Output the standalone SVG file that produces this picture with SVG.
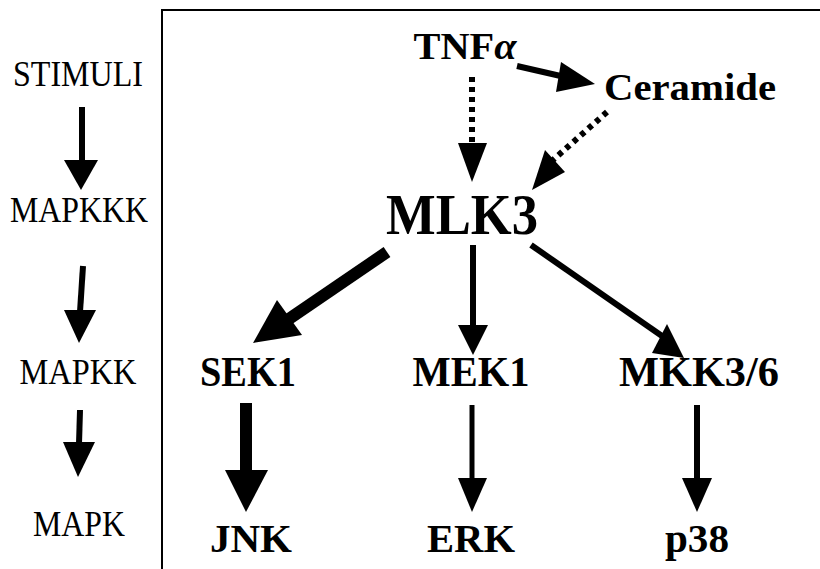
<svg xmlns="http://www.w3.org/2000/svg" width="820" height="569" viewBox="0 0 820 569">
<style>
.lab{font-family:"Liberation Serif","Times New Roman",serif;font-size:35px;fill:#000;text-anchor:middle}
.nd{font-family:"Liberation Serif","Times New Roman",serif;font-weight:bold;fill:#000;text-anchor:middle}
.ln{stroke:#000;fill:none}
.hd{fill:#000;stroke:none}
</style>
<rect width="820" height="569" fill="#fff"/>
<g id="frame" class="ln" stroke-width="2">
<path d="M162,569 V10 H820"/>
</g>
<g id="levels">
<text class="lab" x="78" y="86" textLength="130" lengthAdjust="spacingAndGlyphs">STIMULI</text>
<text class="lab" x="79" y="222" textLength="138" lengthAdjust="spacingAndGlyphs">MAPKKK</text>
<text class="lab" x="78" y="384" textLength="117" lengthAdjust="spacingAndGlyphs">MAPKK</text>
<text class="lab" x="79" y="536" textLength="92" lengthAdjust="spacingAndGlyphs">MAPK</text>
</g>
<g id="level-arrows">
<path class="ln" stroke-width="6" d="M82,107 V162"/>
<path class="hd" d="M64,160 L98,160 L81,190 Z"/>
<path class="ln" stroke-width="6" d="M83,266 L80,312"/>
<path class="hd" d="M64,310 L96,310 L79,343 Z"/>
<path class="ln" stroke-width="6" d="M80,410 L79,444"/>
<path class="hd" d="M63,442 L95,442 L78,477 Z"/>
</g>
<g id="TNFa"><text class="nd" x="465" y="59" font-size="38" textLength="103" lengthAdjust="spacingAndGlyphs">TNF<tspan font-style="italic">α</tspan></text></g>
<g id="Ceramide"><text class="nd" x="690" y="100" font-size="38" textLength="172" lengthAdjust="spacingAndGlyphs">Ceramide</text></g>
<g id="MLK3"><text class="nd" x="462" y="234" font-size="56" textLength="152" lengthAdjust="spacingAndGlyphs">MLK3</text></g>
<g id="SEK1"><text class="nd" x="248" y="386" font-size="42" textLength="96" lengthAdjust="spacingAndGlyphs">SEK1</text></g>
<g id="MEK1"><text class="nd" x="471" y="386" font-size="42" textLength="117" lengthAdjust="spacingAndGlyphs">MEK1</text></g>
<g id="MKK3-6"><text class="nd" x="699" y="386" font-size="42" textLength="160" lengthAdjust="spacingAndGlyphs">MKK3/6</text></g>
<g id="JNK"><text class="nd" x="251" y="552" font-size="40" textLength="82" lengthAdjust="spacingAndGlyphs">JNK</text></g>
<g id="ERK"><text class="nd" x="471" y="552" font-size="40" textLength="88" lengthAdjust="spacingAndGlyphs">ERK</text></g>
<g id="p38"><text class="nd" x="697" y="552" font-size="40" textLength="64" lengthAdjust="spacingAndGlyphs">p38</text></g>
<g id="connectors">
<path class="ln" stroke-width="6" d="M517,66 L565,77"/>
<path class="hd" d="M561,62 L595,84 L556,92 Z"/>
<path class="ln" stroke-width="6" stroke-dasharray="5,5" d="M472,77 V146"/>
<path class="hd" d="M458,143 L487,143 L472,182 Z"/>
<path class="ln" stroke-width="6" stroke-dasharray="5,5" d="M607,112 L553,160"/>
<path class="hd" d="M545,150 L565,172 L532,190 Z"/>
<path class="ln" stroke-width="12" d="M387,252 L283,323"/>
<path class="hd" d="M277,300 L302,335 L253,343 Z"/>
<path class="ln" stroke-width="6" d="M473,245 V327"/>
<path class="hd" d="M458,325 L488,325 L473,355 Z"/>
<path class="ln" stroke-width="6" d="M531,245 L662,336"/>
<path class="hd" d="M652,353 L667,324 L684,358 Z"/>
<path class="ln" stroke-width="12" d="M246,403 V472"/>
<path class="hd" d="M225,470 L268,470 L246,512 Z"/>
<path class="ln" stroke-width="5" d="M472,405 V480"/>
<path class="hd" d="M458,478 L487,478 L472,512 Z"/>
<path class="ln" stroke-width="6" d="M697,405 V480"/>
<path class="hd" d="M682,478 L712,478 L697,512 Z"/>
</g>
</svg>
